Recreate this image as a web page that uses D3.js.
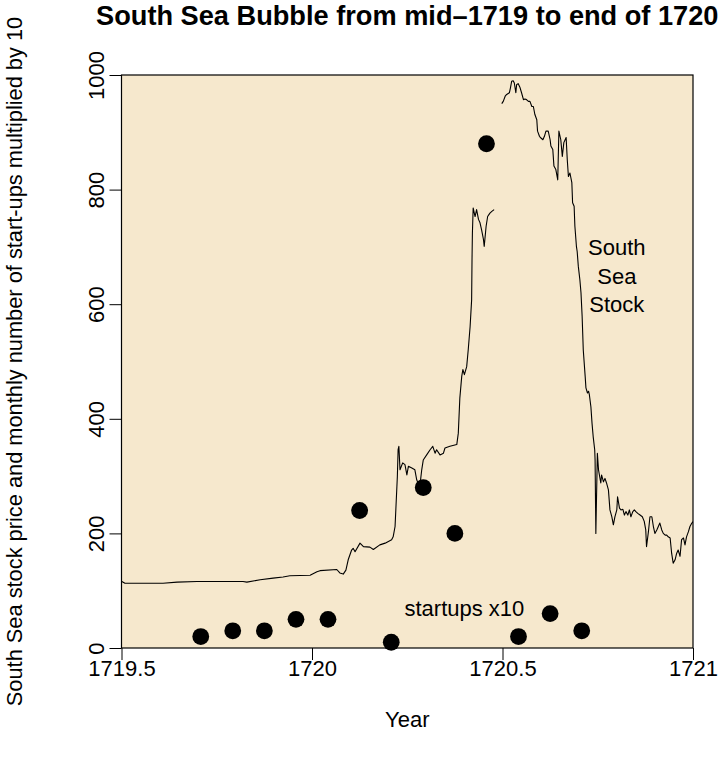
<!DOCTYPE html>
<html>
<head>
<meta charset="utf-8">
<script src="https://cdn.jsdelivr.net/npm/d3@7"></script>
<style>
  html, body { margin: 0; padding: 0; background: #fff; }
  svg text { font-family: "Liberation Sans", Arial, Helvetica, sans-serif; fill: #000; }
</style>
</head>
<body>
<svg id="chart" width="723" height="759"></svg>
<script>
// ---- data ----
const titleText = "South Sea Bubble from mid\u20131719 to end of 1720";
const xLabel = "Year";
const yLabel = "South Sea stock price and monthly number of start-ups multiplied by 10";
const xTicks = [1719.5, 1720, 1720.5, 1721];
const xTickLabels = ["1719.5", "1720", "1720.5", "1721"];
const yTicks = [0, 200, 400, 600, 800, 1000];

// South Sea stock price (decimal year, price); null marks a gap in the record
const stockYear = [
  1719.501, 1719.509, 1719.609, 1719.646, 1719.698, 1719.819, 1719.829, 1719.864, 1719.898, 1719.924,
  1719.942, 1719.995, 1720.013, 1720.021, 1720.065, 1720.073, 1720.082, 1720.089, 1720.095, 1720.104,
  1720.108, 1720.113, 1720.126, 1720.135, 1720.152, 1720.161, 1720.178, 1720.192, 1720.209, 1720.213,
  1720.218, 1720.220, 1720.224, 1720.226, 1720.228, 1720.231, 1720.238, 1720.244, 1720.249, 1720.253,
  1720.262, 1720.270, 1720.275, 1720.283, 1720.288, 1720.292, 1720.301, 1720.310, 1720.317, 1720.323,
  1720.327, 1720.336, 1720.345, 1720.349, 1720.362, 1720.380, 1720.384, 1720.388, 1720.393, 1720.396,
  1720.400, 1720.406, 1720.410, 1720.415, 1720.419, 1720.420, 1720.421, 1720.423, 1720.428, 1720.432,
  1720.437, 1720.441, 1720.445, 1720.450, 1720.452, 1720.457, 1720.461, 1720.467, 1720.472, 1720.478,
  1720.488,
  1720.498, 1720.502, 1720.507, 1720.511, 1720.518, 1720.521, 1720.524, 1720.528, 1720.531, 1720.535,
  1720.537, 1720.541, 1720.546, 1720.550, 1720.555, 1720.559, 1720.563, 1720.568, 1720.572, 1720.577,
  1720.581, 1720.585, 1720.590, 1720.592, 1720.597, 1720.601, 1720.606, 1720.610, 1720.614, 1720.620,
  1720.625, 1720.627, 1720.632, 1720.635, 1720.640, 1720.645, 1720.648, 1720.653, 1720.657, 1720.661,
  1720.667, 1720.670, 1720.673, 1720.677, 1720.682, 1720.684, 1720.688, 1720.690, 1720.694, 1720.696,
  1720.699, 1720.703, 1720.706, 1720.709, 1720.712, 1720.717, 1720.719, 1720.723, 1720.726, 1720.728,
  1720.732, 1720.735, 1720.738, 1720.742, 1720.743, 1720.745, 1720.749, 1720.752, 1720.758, 1720.760,
  1720.765, 1720.769, 1720.773, 1720.778, 1720.782, 1720.787, 1720.791, 1720.795, 1720.800, 1720.802,
  1720.807, 1720.811, 1720.816, 1720.820, 1720.824, 1720.829, 1720.833, 1720.837, 1720.842, 1720.846,
  1720.850, 1720.855, 1720.861, 1720.867, 1720.872, 1720.876, 1720.878, 1720.883, 1720.887, 1720.892,
  1720.896, 1720.900, 1720.905, 1720.909, 1720.913, 1720.918, 1720.922, 1720.927, 1720.931, 1720.935,
  1720.940, 1720.944, 1720.948, 1720.953, 1720.957, 1720.961, 1720.966, 1720.970, 1720.975, 1720.979,
  1720.983, 1720.988, 1720.992, 1720.997, 1721.001
];
const stockPrice = [
  116, 113, 113, 115, 116, 116, 115, 119, 122, 124,
  126, 127, 133, 135, 137, 131, 129, 136, 154, 171,
  174, 168, 183, 177, 176, 172, 180, 183, 189, 194,
  212, 241, 299, 346, 352, 311, 323, 320, 302, 317,
  314, 311, 293, 282, 311, 328, 337, 346, 352, 340,
  346, 337, 340, 349, 352, 355, 375, 436, 474, 486,
  477, 491, 520, 561, 608, 678, 724, 768, 753, 765,
  748, 742, 730, 713, 701, 736, 753, 759, 762, 765,
  null,
  950, 954, 963, 966, 969, 978, 989, 990, 986, 969,
  983, 985, 978, 969, 957, 958, 957, 954, 954, 945,
  945, 931, 922, 902, 893, 890, 887, 893, 902, 902,
  887, 876, 870, 841, 835, 817, 902, 887, 858, 882,
  891, 852, 823, 829, 812, 777, 771, 736, 701, 692,
  666, 643, 620, 579, 520, 474, 454, 445, 448, 442,
  421, 392, 369, 346, 328, 200, 340, 311, 288, 302,
  290, 296, 288, 276, 241, 229, 215, 229, 241, 264,
  244, 241, 242, 232, 238, 232, 241, 229, 238, 241,
  238, 235, 232, 229, 221, 206, 177, 203, 229, 229,
  212, 200, 206, 212, 218, 206, 200, 197, 197, 194,
  192, 165, 148, 154, 165, 171, 160, 189, 192, 180,
  194, 203, 212, 218, 221
];

// monthly start-ups (mid-month, Sept 1719 .. Sept 1720), already multiplied by 10
const startupYear = [1719.708, 1719.792, 1719.875, 1719.958, 1720.042, 1720.125, 1720.208,
                     1720.292, 1720.375, 1720.458, 1720.542, 1720.625, 1720.708];
const startupValue = [20, 30, 30, 50, 50, 240, 10, 280, 200, 880, 20, 60, 30];

// ---- layout ----
const svg = d3.select("#chart");
const pL = 121.5, pR = 693, pT = 75, pB = 648;
const baseFont = 22, titleFont = 27.2;

const x = d3.scaleLinear().domain([1719.5, 1721]).range([pL, pR]);
const y = d3.scaleLinear().domain([0, 1000]).range([pB, pT]);

svg.append("defs").append("clipPath").attr("id", "plotclip")
  .append("rect").attr("x", pL).attr("y", pT).attr("width", pR - pL).attr("height", pB - pT);

// panel background
svg.append("rect").attr("x", pL).attr("y", pT).attr("width", pR - pL).attr("height", pB - pT)
  .attr("fill", "#F6E8CD");

// stock line
const stockData = stockYear.map((t, i) => ({ t: t, p: stockPrice[i] }));
const line = d3.line().defined(d => d.p !== null).x(d => x(d.t)).y(d => y(d.p));
svg.append("path").datum(stockData)
  .attr("clip-path", "url(#plotclip)")
  .attr("fill", "none").attr("stroke", "#000").attr("stroke-width", 1.1)
  .attr("stroke-linejoin", "round")
  .attr("d", line);

// start-up points
svg.append("g").selectAll("circle")
  .data(startupYear.map((t, i) => ({ t: t, v: startupValue[i] })))
  .join("circle")
  .attr("cx", d => x(d.t)).attr("cy", d => y(d.v)).attr("r", 8.4)
  .attr("fill", "#000");

// annotations
const ann = svg.append("g").attr("font-size", baseFont).attr("text-anchor", "middle");
["South", "Sea", "Stock"].forEach((s, i) => {
  ann.append("text").attr("x", x(1720.8)).attr("y", y(650) + 8 + (i - 1) * 28.5).text(s);
});
ann.append("text").attr("x", x(1720.4)).attr("y", y(70) + 8).text("startups x10");

// box
svg.append("rect").attr("x", pL).attr("y", pT).attr("width", pR - pL).attr("height", pB - pT)
  .attr("fill", "none").attr("stroke", "#000").attr("stroke-width", 1.2);

// x axis
const gx = svg.append("g").attr("transform", `translate(0,${pB})`)
  .call(d3.axisBottom(x).tickValues(xTicks).tickSize(12).tickFormat((d, i) => xTickLabels[i]));
gx.select(".domain").remove();
gx.selectAll(".tick line").attr("stroke", "#000").attr("stroke-width", 1);
gx.selectAll(".tick text").attr("y", 28).attr("dy", null)
  .attr("font-size", baseFont).attr("font-family", null);

// y axis
const gy = svg.append("g").attr("transform", `translate(${pL},0)`)
  .call(d3.axisLeft(y).tickValues(yTicks).tickSize(12).tickFormat(d3.format("d")));
gy.select(".domain").remove();
gy.selectAll(".tick line").attr("stroke", "#000").attr("stroke-width", 1);
gy.selectAll(".tick text").attr("x", null).attr("dy", null)
  .attr("text-anchor", "middle").attr("transform", "translate(-17.5,0) rotate(-90)")
  .attr("font-size", baseFont).attr("font-family", null);

// titles
svg.append("text").attr("x", (pL + pR) / 2).attr("y", 25)
  .attr("text-anchor", "middle").attr("font-size", titleFont).attr("font-weight", "bold")
  .text(titleText);
svg.append("text").attr("x", (pL + pR) / 2).attr("y", 727)
  .attr("text-anchor", "middle").attr("font-size", baseFont).text(xLabel);
svg.append("text").attr("transform", `translate(22,${(pT + pB) / 2}) rotate(-90)`)
  .attr("text-anchor", "middle").attr("font-size", 21.8).text(yLabel);
</script>
</body>
</html>
